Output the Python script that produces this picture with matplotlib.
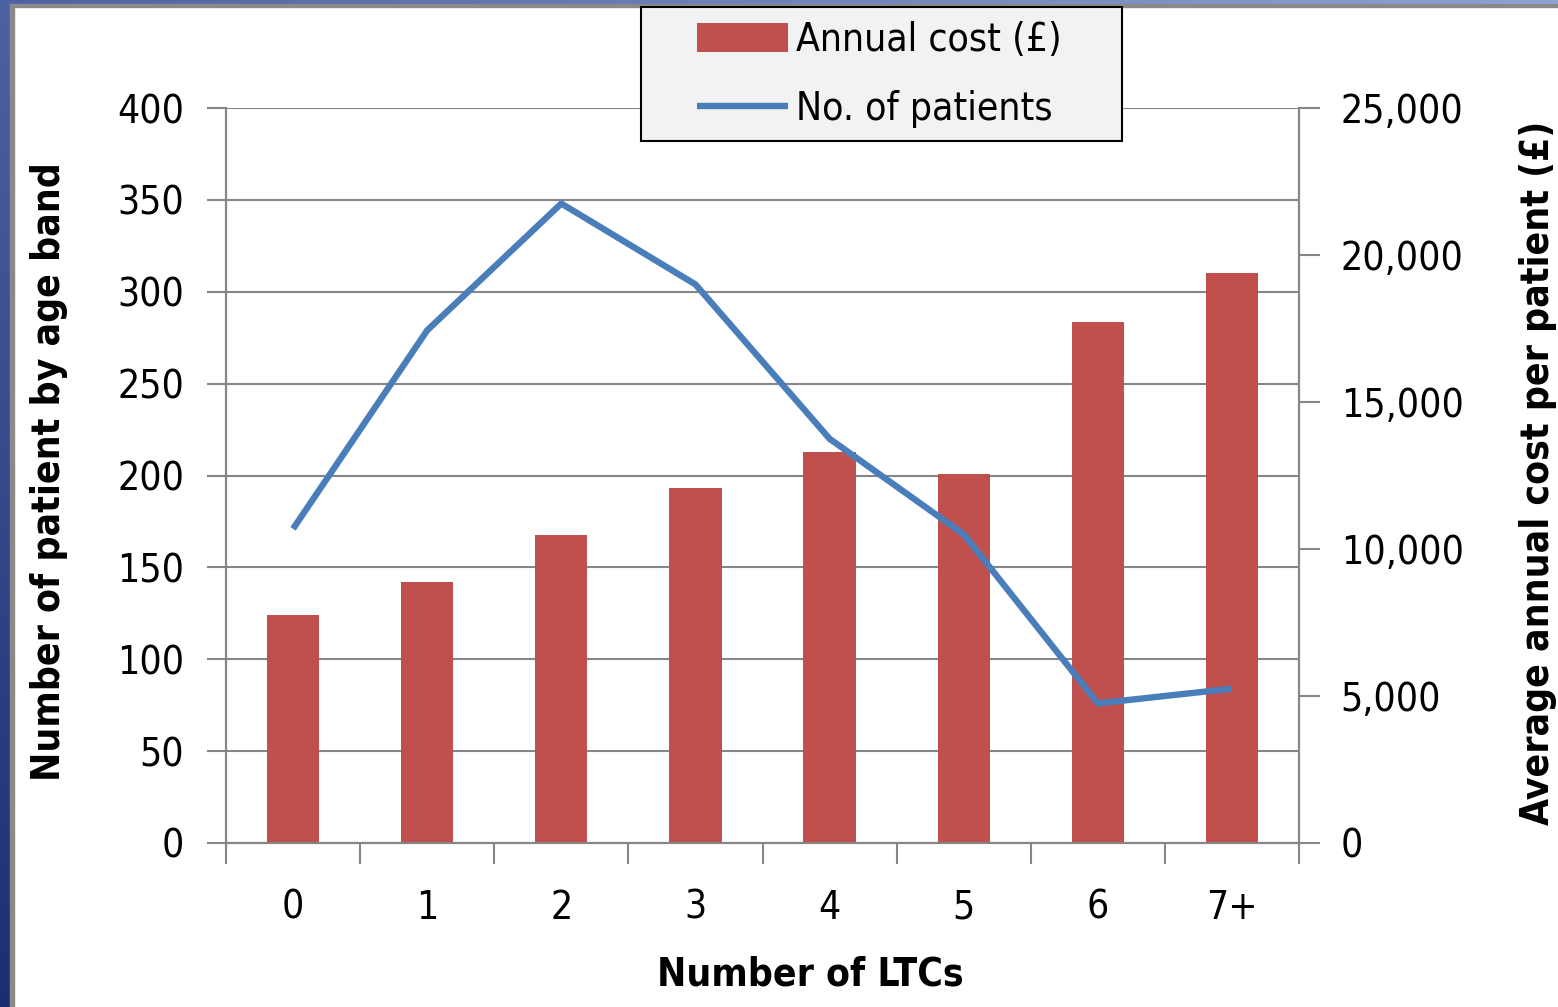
import numpy as np
import matplotlib
matplotlib.use("Agg")
import matplotlib.pyplot as plt
from matplotlib.colors import LinearSegmentedColormap

plt.rcParams['font.family'] = ['DejaVu Sans']
plt.rcParams['font.stretch'] = 'condensed'

categories = ['0', '1', '2', '3', '4', '5', '6', '7+']
patients = [171, 279, 348, 304, 220, 168, 76, 84]
annual_cost = [7750, 8875, 10475, 12075, 13300, 12550, 17725, 19400]

bar_col = '#C0504D'
line_col = '#4A7EBB'
grid_col = '#868686'
fs = 28

fig = plt.figure(figsize=(15.58, 10.07), dpi=100)
W, H = 1558, 1007

# slide frame: blue strips on the left and top edges
left_strip = fig.add_axes([0, 0, 10 / W, 1])
left_strip.imshow(np.linspace(0, 1, 256).reshape(-1, 1), aspect='auto',
                  cmap=LinearSegmentedColormap.from_list('l', ['#4d62a2', '#1a2e72']))
left_strip.axis('off')
top_strip = fig.add_axes([0, 1 - 4 / H, 1, 4 / H])
top_strip.imshow(np.linspace(0, 1, 256).reshape(1, -1), aspect='auto',
                 cmap=LinearSegmentedColormap.from_list('t', ['#4d62a2', '#8fa3d2']))
top_strip.axis('off')
fig.patches.append(plt.Rectangle((10 / W, 0), 4 / W, 1 - 4 / H, transform=fig.transFigure,
                                 color='#8a8a8a', zorder=5))
fig.patches.append(plt.Rectangle((10 / W, 1 - 7 / H), 1, 3 / H, transform=fig.transFigure,
                                 color='#8a8a8a', zorder=5))

x = np.arange(len(categories))
pos = [226 / W, 1 - 843 / H, (1299 - 226) / W, (843 - 108) / H]

ax = fig.add_axes(pos)
ax2 = ax.twinx()
ax3 = ax.twinx()

ax.set_ylim(0, 400)
ax.set_yticks(np.arange(0, 401, 50))
ax.grid(axis='y', color=grid_col, linewidth=1.5)
ax.set_axisbelow(True)

bars = ax2.bar(x, annual_cost, width=0.39, color=bar_col, label='Annual cost (£)')
ax2.set_ylim(0, 25000)
ax2.set_yticks(np.arange(0, 25001, 5000))
ax2.set_yticklabels([f'{v:,}' for v in range(0, 25001, 5000)])

ln, = ax3.plot(x, patients, color=line_col, linewidth=4.6, solid_joinstyle='round',
               solid_capstyle='butt', label='No. of patients')
ax3.set_ylim(0, 400)
ax3.set_yticks([])

for a in (ax, ax2, ax3):
    a.set_xlim(-0.5, 7.5)
    a.spines['top'].set_visible(False)
    for s in ('left', 'right', 'bottom'):
        a.spines[s].set_color(grid_col)
        a.spines[s].set_linewidth(1.5)
for s in ('left', 'right', 'bottom'):
    ax3.spines[s].set_visible(False)

ax.set_xticks(x)
ax.set_xticklabels(categories)
ax.set_xticks(np.arange(-0.5, 8, 1), minor=True)
ax.tick_params(axis='x', which='major', length=0, pad=33, labelsize=fs)
ax.tick_params(axis='x', which='minor', length=15, width=1.5, color=grid_col)
ax.tick_params(axis='y', length=14, width=1.5, color=grid_col, pad=16, labelsize=fs)
ax2.tick_params(axis='y', length=15, width=1.5, color=grid_col, pad=15, labelsize=fs)
ax2.tick_params(axis='x', length=0)

fig.text(810 / W, 1 - 975 / H, 'Number of LTCs', ha='center', va='center',
         fontsize=fs, fontweight='bold')
fig.text(30 / W, 1 - 472 / H, 'Number of patient by age band', rotation=90,
         ha='left', va='center', fontsize=fs, fontweight='bold')
fig.text(1557 / W, 1 - 473 / H, 'Average annual cost per patient (£)', rotation=90,
         ha='right', va='center', fontsize=fs, fontweight='bold')

# legend box sits over the top of the plot area
fig.patches.append(plt.Rectangle((641 / W, 1 - 141 / H), 481 / W, 134 / H,
                                 transform=fig.transFigure, facecolor='#F2F2F2',
                                 edgecolor='black', linewidth=1.5, zorder=5))
leg = fig.legend(handles=[bars, ln], loc='upper left', bbox_to_anchor=(697 / W, 1 - 21 / H),
                 borderaxespad=0, borderpad=0, fontsize=fs, frameon=False,
                 handlelength=2.35, handleheight=0.75, handletextpad=0.2,
                 labelspacing=0.8)
leg.set_zorder(6)

fig.savefig('out.png', dpi=100)
